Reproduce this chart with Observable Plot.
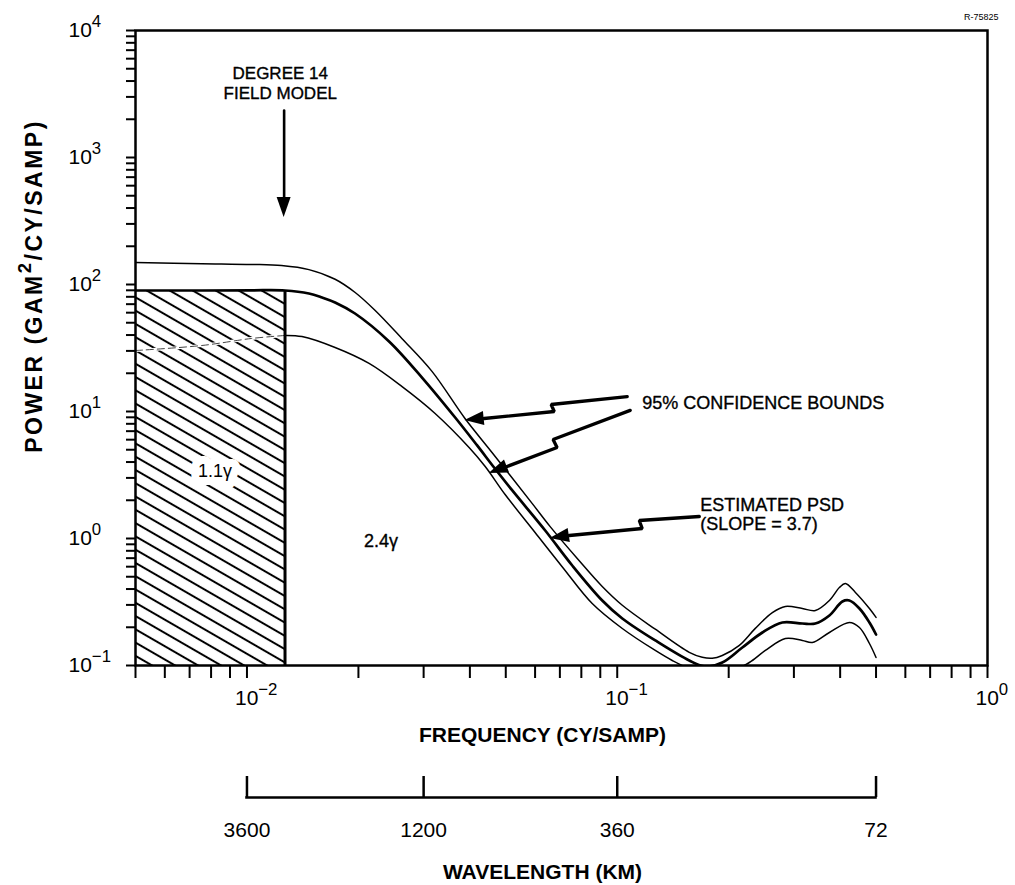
<!DOCTYPE html>
<html><head><meta charset="utf-8">
<script src="https://cdn.jsdelivr.net/npm/d3@7"></script>
<script src="https://cdn.jsdelivr.net/npm/@observablehq/plot@0.6"></script>
<style>
html,body{margin:0;padding:0;background:#fff;}
#chart svg{display:block;}
</style></head><body><div id="chart"></div>
<script>
// ---------- data (frequency in cy/samp, power in gam^2/(cy/samp)) ----------
const upperFreq  = [0.005, 0.00756, 0.0103, 0.0124, 0.0147, 0.0173, 0.0196, 0.0222, 0.0262, 0.0316, 0.0388, 0.0459, 0.0589, 0.0659, 0.0780, 0.0911, 0.1032, 0.1267, 0.1565, 0.1697, 0.1806, 0.1922, 0.2137, 0.2360, 0.2624, 0.2845, 0.3162, 0.3428, 0.3741, 0.3981, 0.4132, 0.4398, 0.4799, 0.5];
const upperPower = [149, 146, 144, 141, 131, 110, 86.5, 62.4, 37.6, 20.7, 8.81, 4.76, 1.89, 1.24, 0.696, 0.419, 0.298, 0.193, 0.127, 0.116, 0.114, 0.120, 0.144, 0.196, 0.261, 0.292, 0.281, 0.271, 0.325, 0.411, 0.442, 0.376, 0.281, 0.239];

const psdFreq  = [0.005, 0.00756, 0.0103, 0.01267, 0.0147, 0.01595, 0.0173, 0.01958, 0.0242, 0.0297, 0.0365, 0.0418, 0.0465, 0.0520, 0.0639, 0.0756, 0.0911, 0.1032, 0.1267, 0.1565, 0.1729, 0.1922, 0.2177, 0.2466, 0.2792, 0.3162, 0.3428, 0.3741, 0.4056, 0.4236, 0.4510, 0.4799, 0.5];
const psdPower = [89.7, 89.7, 90.0, 89.7, 84.9, 79.0, 72.2, 59.1, 35.6, 18.5, 8.97, 5.43, 3.62, 2.40, 1.156, 0.613, 0.325, 0.2345, 0.1574, 0.1095, 0.0982, 0.1056, 0.1386, 0.1819, 0.2181, 0.2141, 0.2141, 0.2476, 0.3191, 0.3249, 0.2811, 0.2181, 0.1754];

const lowerFreq  = [0.005, 0.00756, 0.0103, 0.01267, 0.01408, 0.0173, 0.02137, 0.02624, 0.03222, 0.0398, 0.0440, 0.0498, 0.0600, 0.0710, 0.0856, 0.1032, 0.1267, 0.1408, 0.1565, 0.1806, 0.2046, 0.2274, 0.2512, 0.2845, 0.3162, 0.3365, 0.3741, 0.4236, 0.4510, 0.4799, 0.5];
const lowerPower = [30.2, 33.1, 37.6, 39.7, 38.9, 31.9, 23.9, 15.7, 9.65, 5.21, 3.69, 2.22, 1.115, 0.60, 0.3077, 0.1956, 0.1313, 0.1095, 0.0947, 0.0849, 0.0913, 0.1056, 0.1313, 0.1631, 0.1574, 0.1517, 0.1819, 0.2181, 0.1991, 0.1490, 0.1156];

// degree-14 field model cutoff and hatched region
const freqMin = 0.005, freqMax = 1, powerMin = 0.1, powerMax = 1e4;
const cutoffFreq = 0.01267;
const hatchTop = 89.7;

// axis ticks
const yMajor = [0.1, 1, 10, 100, 1000, 10000];
const yMajorLabels = ["10^{−1}", "10^{0}", "10^{1}", "10^{2}", "10^{3}", "10^{4}"];
const xDecades = [0.001, 0.01, 0.1];
const xMajor = [0.01, 0.1, 1];
const xMajorLabels = ["10^{−2}", "10^{−1}", "10^{0}"];
const minorMultipliers = [1, 2, 3, 4, 5, 6, 7, 8, 9];

// wavelength scale (km); sample spacing 36 km
const sampleKm = 36;
const wavelengthKm = [3600, 1200, 360, 72];
const wavelengthLabels = ["3600", "1200", "360", "72"];

// annotations
const regionLabels = [
  {f: 0.0082, p: 3.37, t: "1.1γ", halo: true},
  {f: 0.0230, p: 0.947, t: "2.4γ", halo: false}
];
const degreeLabel = {f: 0.0123, p: 3896, t: "DEGREE 14\nFIELD MODEL"};
const boundsLabel = {f: 0.1168, p: 11.56, t: "95% CONFIDENCE BOUNDS"};
const psdLabel = {f: 0.1676, p: 1.559, t: "ESTIMATED PSD\n(SLOPE = 3.7)"};
const yTitle = "POWER (GAM^{2}/CY/SAMP)";

// arrows: polyline points [freq, power]; the last point is the arrow tip
const arrowUpper = [[0.1064, 13.1], [0.0663, 11.35], [0.0676, 10.0], [0.0437, 8.81], [0.0388, 8.50]];
const arrowLower = [[0.1084, 10.2], [0.0671, 6.02], [0.0688, 5.21], [0.0504, 3.69], [0.0451, 3.25]];
const arrowPsd   = [[0.1666, 1.49], [0.1147, 1.386], [0.1168, 1.199], [0.0742, 1.056], [0.0659, 1.0]];
const arrowDegree = [[0.0126, 2344], [0.0126, 484], [0.0126, 337]];

// ---------- build ----------
const FONT = "'Liberation Sans', Arial, Helvetica, sans-serif";
const rows = (fs, ps) => fs.map((f, i) => ({f, p: ps[i]}));
const upperRows = rows(upperFreq, upperPower);
const psdRows = rows(psdFreq, psdPower);
const lowerRows = rows(lowerFreq, lowerPower);
const lowerIn = lowerRows.filter(d => d.f <= cutoffFreq);
const lowerOut = lowerRows.filter(d => d.f >= cutoffFreq);

const yTicks = [];
for (const m of yMajor.slice(0, -1)) for (const k of minorMultipliers) yTicks.push(m * k);
yTicks.push(yMajor[yMajor.length - 1]);
const xTicks = [];
for (const m of xDecades) for (const k of minorMultipliers) { const v = m * k; if (v >= freqMin - 1e-12) xTicks.push(v); }
xTicks.push(freqMax);

const yLabelMap = new Map(yMajor.map((v, i) => [v, yMajorLabels[i]]));
const xLabelMap = new Map(xMajor.map((v, i) => [v, xMajorLabels[i]]));
const waveRows = wavelengthKm.map((w, i) => ({f: sampleKm / w, t: wavelengthLabels[i]}));

const arrowShaftRows = (arrows) => arrows.flatMap((a, id) => a.slice(0, -1).map(([f, p]) => ({id, f, p})));

const NS = "http://www.w3.org/2000/svg";
const hatchDefs = () => {
  const defs = document.createElementNS(NS, "defs");
  const pat = document.createElementNS(NS, "pattern");
  pat.setAttribute("id", "hatch");
  pat.setAttribute("patternUnits", "userSpaceOnUse");
  pat.setAttribute("width", "10");
  pat.setAttribute("height", "11.5");
  pat.setAttribute("patternTransform", "rotate(30)");
  const bg = document.createElementNS(NS, "rect");
  bg.setAttribute("width", "10"); bg.setAttribute("height", "11.5"); bg.setAttribute("fill", "white");
  const ln = document.createElementNS(NS, "line");
  ln.setAttribute("x1", "-1"); ln.setAttribute("x2", "11");
  ln.setAttribute("y1", "5.75"); ln.setAttribute("y2", "5.75");
  ln.setAttribute("stroke", "black"); ln.setAttribute("stroke-width", "2");
  pat.appendChild(bg); pat.appendChild(ln); defs.appendChild(pat);
  return defs;
};

const arrowHeads = (arrows, halfWidth) => (index, scales) => {
  const g = document.createElementNS(NS, "g");
  for (const a of arrows) {
    const n = a.length;
    const xb = scales.x(a[n - 2][0]), yb = scales.y(a[n - 2][1]);
    const xt = scales.x(a[n - 1][0]), yt = scales.y(a[n - 1][1]);
    const dx = xt - xb, dy = yt - yb, L = Math.hypot(dx, dy);
    const nx = -dy / L * halfWidth, ny = dx / L * halfWidth;
    const path = document.createElementNS(NS, "path");
    path.setAttribute("d", `M${xt},${yt}L${xb + nx},${yb + ny}L${xb - nx},${yb - ny}Z`);
    path.setAttribute("fill", "black");
    g.appendChild(path);
  }
  return g;
};

function superscripts(svg) {
  svg.querySelectorAll("text, tspan").forEach(el => {
    if (el.children.length) return;
    const s = el.textContent;
    if (!s || !s.includes("^{")) return;
    const parts = s.split(/\^\{([^}]*)\}/);
    el.textContent = "";
    let raised = false;
    parts.forEach((t, i) => {
      if (t === "") return;
      const sp = document.createElementNS(NS, "tspan");
      sp.textContent = t;
      if (i % 2 === 1) {
        sp.setAttribute("font-size", "80%");
        sp.setAttribute("dy", "-0.6em");
        raised = true;
      } else if (raised) {
        sp.setAttribute("dy", "0.48em");
        raised = false;
      }
      el.appendChild(sp);
    });
  });
}

const annot = {fill: "black", stroke: "black", strokeWidth: 0.35};

const main = Plot.plot({
  width: 1015, height: 750,
  marginTop: 30, marginBottom: 85, marginLeft: 135, marginRight: 28,
  style: {fontFamily: FONT, background: "white", color: "black", overflow: "visible"},
  x: {type: "log", domain: [freqMin, freqMax]},
  y: {type: "log", domain: [powerMin, powerMax]},
  marks: [
    hatchDefs,
    Plot.rect([{f1: freqMin, f2: cutoffFreq, p1: powerMin, p2: hatchTop}], {x1: "f1", x2: "f2", y1: "p1", y2: "p2", fill: "url(#hatch)"}),
    Plot.line(lowerIn, {x: "f", y: "p", stroke: "white", strokeWidth: 3, curve: "catmull-rom"}),
    Plot.line(lowerIn, {x: "f", y: "p", stroke: "#444", strokeWidth: 1, strokeDasharray: "7,4", curve: "catmull-rom"}),
    Plot.ruleX([cutoffFreq], {y1: powerMin, y2: hatchTop, strokeWidth: 3}),
    Plot.line(lowerOut, {x: "f", y: "p", strokeWidth: 1.5, curve: "catmull-rom", clip: true}),
    Plot.line(upperRows, {x: "f", y: "p", strokeWidth: 1.5, curve: "catmull-rom", clip: true}),
    Plot.line(psdRows, {x: "f", y: "p", strokeWidth: 2.7, curve: "catmull-rom", clip: true}),
    // arrows
    Plot.line(arrowShaftRows([arrowUpper, arrowLower, arrowPsd]), {x: "f", y: "p", z: "id", strokeWidth: 3.3, strokeLinejoin: "miter"}),
    Plot.line(arrowShaftRows([arrowDegree]), {x: "f", y: "p", z: "id", strokeWidth: 2.6}),
    arrowHeads([arrowUpper, arrowLower, arrowPsd], 7),
    arrowHeads([arrowDegree], 7),
    // labels
    Plot.text(regionLabels.filter(d => d.halo), {x: "f", y: "p", text: "t", fontSize: 18, fill: "black", stroke: "white", strokeWidth: 16, strokeLinejoin: "round"}),
    Plot.text(regionLabels.filter(d => !d.halo), {x: "f", y: "p", text: "t", fontSize: 18, ...annot}),
    Plot.text([degreeLabel], {x: "f", y: "p", text: "t", fontSize: 17, lineHeight: 1.15, ...annot}),
    Plot.text([boundsLabel], {x: "f", y: "p", text: "t", fontSize: 18, textAnchor: "start", ...annot}),
    Plot.text([psdLabel], {x: "f", y: "p", text: "t", fontSize: 18, lineHeight: 1.08, textAnchor: "start", ...annot}),
    // axes
    Plot.axisY(yTicks, {anchor: "left", tickSize: 9, strokeWidth: 2, tickFormat: () => "", label: null}),
    Plot.axisY(yMajor, {anchor: "left", tickSize: 0, tickPadding: 0, tickFormat: v => yLabelMap.get(v), textAnchor: "start", dx: -67, fontSize: 21, label: null}),
    Plot.axisX(xTicks, {anchor: "bottom", tickSize: 13, strokeWidth: 2, tickFormat: () => "", label: null}),
    Plot.axisX(xMajor, {anchor: "bottom", tickSize: 0, tickPadding: 25, tickFormat: v => xLabelMap.get(v), textAnchor: "start", dx: -12, fontSize: 21, label: null}),
    Plot.frame({strokeWidth: 2.5}),
    Plot.text(["FREQUENCY (CY/SAMP)"], {frameAnchor: "bottom", lineAnchor: "middle", textAnchor: "middle", dy: 70, dx: -19, fontWeight: "bold", fontSize: 21}),
    Plot.text([yTitle], {frameAnchor: "left", textAnchor: "middle", lineAnchor: "middle", rotate: -90, dx: -101, dy: -62, fontWeight: "bold", fontSize: 23}),
    Plot.text(["R-75825"], {frameAnchor: "top-right", dx: 11, dy: -17, textAnchor: "end", fontSize: 9})
  ]
});

const wave = Plot.plot({
  width: 1015, height: 135,
  marginTop: 26, marginBottom: 88, marginLeft: 135, marginRight: 28,
  style: {fontFamily: FONT, background: "white", color: "black", overflow: "visible"},
  x: {type: "log", domain: [freqMin, freqMax], axis: null},
  y: {domain: [0, 1], axis: null},
  marks: [
    Plot.ruleX(waveRows, {x: "f", strokeWidth: 2.5}),
    Plot.ruleY([0], {x1: waveRows[0].f, x2: waveRows[waveRows.length - 1].f, strokeWidth: 2.5, strokeLinecap: "square"}),
    Plot.text(waveRows, {x: "f", text: "t", frameAnchor: "bottom", lineAnchor: "middle", dy: 33, fontSize: 21}),
    Plot.text(["WAVELENGTH (KM)"], {frameAnchor: "bottom", lineAnchor: "middle", textAnchor: "middle", dy: 75, dx: -19, fontWeight: "bold", fontSize: 21})
  ]
});

// widen the rotated y title's letter spacing as in the original lettering
main.querySelectorAll("text").forEach(t => { if (t.textContent === yTitle) t.setAttribute("letter-spacing", "2.5"); });
superscripts(main);
superscripts(wave);
document.getElementById("chart").append(main, wave);
</script></body></html>
